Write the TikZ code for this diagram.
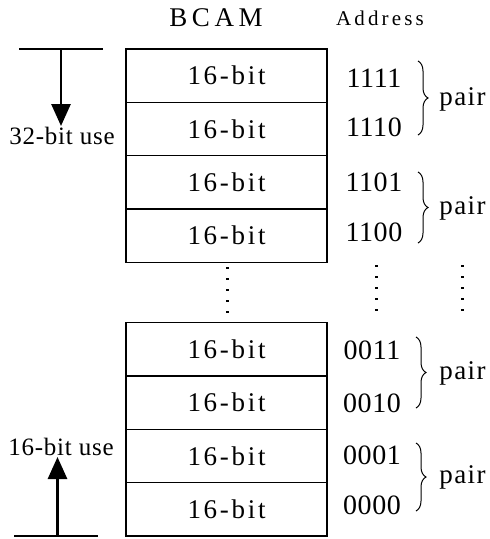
\documentclass[tikz,border=0pt]{standalone}
\usepackage{fontspec}
\setmainfont{Liberation Serif}
\newfontfamily\trk[LetterSpace=10]{Liberation Serif}
\newfontfamily\trkp[LetterSpace=5]{Liberation Serif}
\newfontfamily\trkn[LetterSpace=2]{Liberation Serif}
\newfontfamily\trkb[LetterSpace=17]{Liberation Serif}
\newfontfamily\trka[LetterSpace=15]{Liberation Serif}
\newfontfamily\trks[LetterSpace=3]{Liberation Serif}
\usetikzlibrary{arrows.meta,decorations.pathreplacing}
\begin{document}
\begin{tikzpicture}[x=1pt,y=-1pt,
  cell/.style={draw,line width=1.3pt,minimum width=201pt,minimum height=53.3pt,inner sep=0pt,
    font=\trk\fontsize{27}{30}\selectfont},
  addr/.style={inner sep=0pt,font=\trkn\fontsize{28}{30}\selectfont},
  pairlab/.style={inner sep=0pt,font=\trkp\fontsize{27}{30}\selectfont},
  uselab/.style={inner sep=1pt,font=\trks\fontsize{25}{28}\selectfont},
  bar/.style={line width=2.8pt},
  upd/.style={line width=2.8pt,-{Triangle[width=19pt,length=22pt]}},
  brc/.style={decorate,decoration={brace,amplitude=10pt},line width=1pt},
  dots/.style={line width=3pt,dash pattern=on 1.5pt off 9.5pt}]
\useasboundingbox (0,0) rectangle (490,539);
% headers
\node[inner sep=0pt,font=\trkb\fontsize{27}{30}\selectfont] (bcam) at (216,18) {BCAM};
\node[inner sep=0pt,font=\trka\fontsize{21}{24}\selectfont] (address) at (380,18) {Address};
% top group
\node[cell] (r1) at (226.5,75.7) {16-bit};
\node[cell] (r2) at (226.5,129) {16-bit};
\node[cell] (r3) at (226.5,182.3) {16-bit};
\node[cell] (r4) at (226.5,235.6) {16-bit};
% bottom group
\node[cell] (r5) at (226.5,349.3) {16-bit};
\node[cell] (r6) at (226.5,402.6) {16-bit};
\node[cell] (r7) at (226.5,455.9) {16-bit};
\node[cell] (r8) at (226.5,509.2) {16-bit};
% addresses
\node[addr] (a1) at (374,78) {1111};
\node[addr] (a2) at (374,127) {1110};
\node[addr] (a3) at (374,182) {1101};
\node[addr] (a4) at (374,232) {1100};
\node[addr] (a5) at (372,350) {0011};
\node[addr] (a6) at (372,403) {0010};
\node[addr] (a7) at (372,455) {0001};
\node[addr] (a8) at (372,505) {0000};
% braces
\coordinate (b1t) at (418,61); \coordinate (b1b) at (418,135);
\coordinate (b2t) at (418,172); \coordinate (b2b) at (418,243);
\coordinate (b3t) at (416,337); \coordinate (b3b) at (416,408);
\coordinate (b4t) at (416,443); \coordinate (b4b) at (416,511);
\draw[brc] (b1t) -- (b1b);
\draw[brc] (b2t) -- (b2b);
\draw[brc] (b3t) -- (b3b);
\draw[brc] (b4t) -- (b4b);
\node[pairlab] (p1) at (462.5,99) {pair};
\node[pairlab] (p2) at (462.5,208) {pair};
\node[pairlab] (p3) at (462.5,373) {pair};
\node[pairlab] (p4) at (462.5,477) {pair};
% dotted lines
\coordinate (d1t) at (227,267); \coordinate (d1b) at (227,314);
\coordinate (d2t) at (376,265); \coordinate (d2b) at (376,312);
\coordinate (d3t) at (462,265); \coordinate (d3b) at (462,312);
\draw[dots] (d1t) -- (d1b);
\draw[dots] (d2t) -- (d2b);
\draw[dots] (d3t) -- (d3b);
% use arrows
\coordinate (tl) at (19,49); \coordinate (tr) at (103,49); \coordinate (tm) at (61,49);
\node[uselab] (lab32) at (62,136) {32-bit use};
\draw[bar] (tl) -- (tr);
\draw[upd] (tm) -- (tm |- lab32.north);
\coordinate (bl) at (14,536); \coordinate (br) at (98,536); \coordinate (bm) at (57.5,536);
\node[uselab] (lab16) at (61,447) {16-bit use};
\draw[bar] (bl) -- (br);
\draw[upd] (bm) -- (bm |- lab16.south);
\end{tikzpicture}
\end{document}
